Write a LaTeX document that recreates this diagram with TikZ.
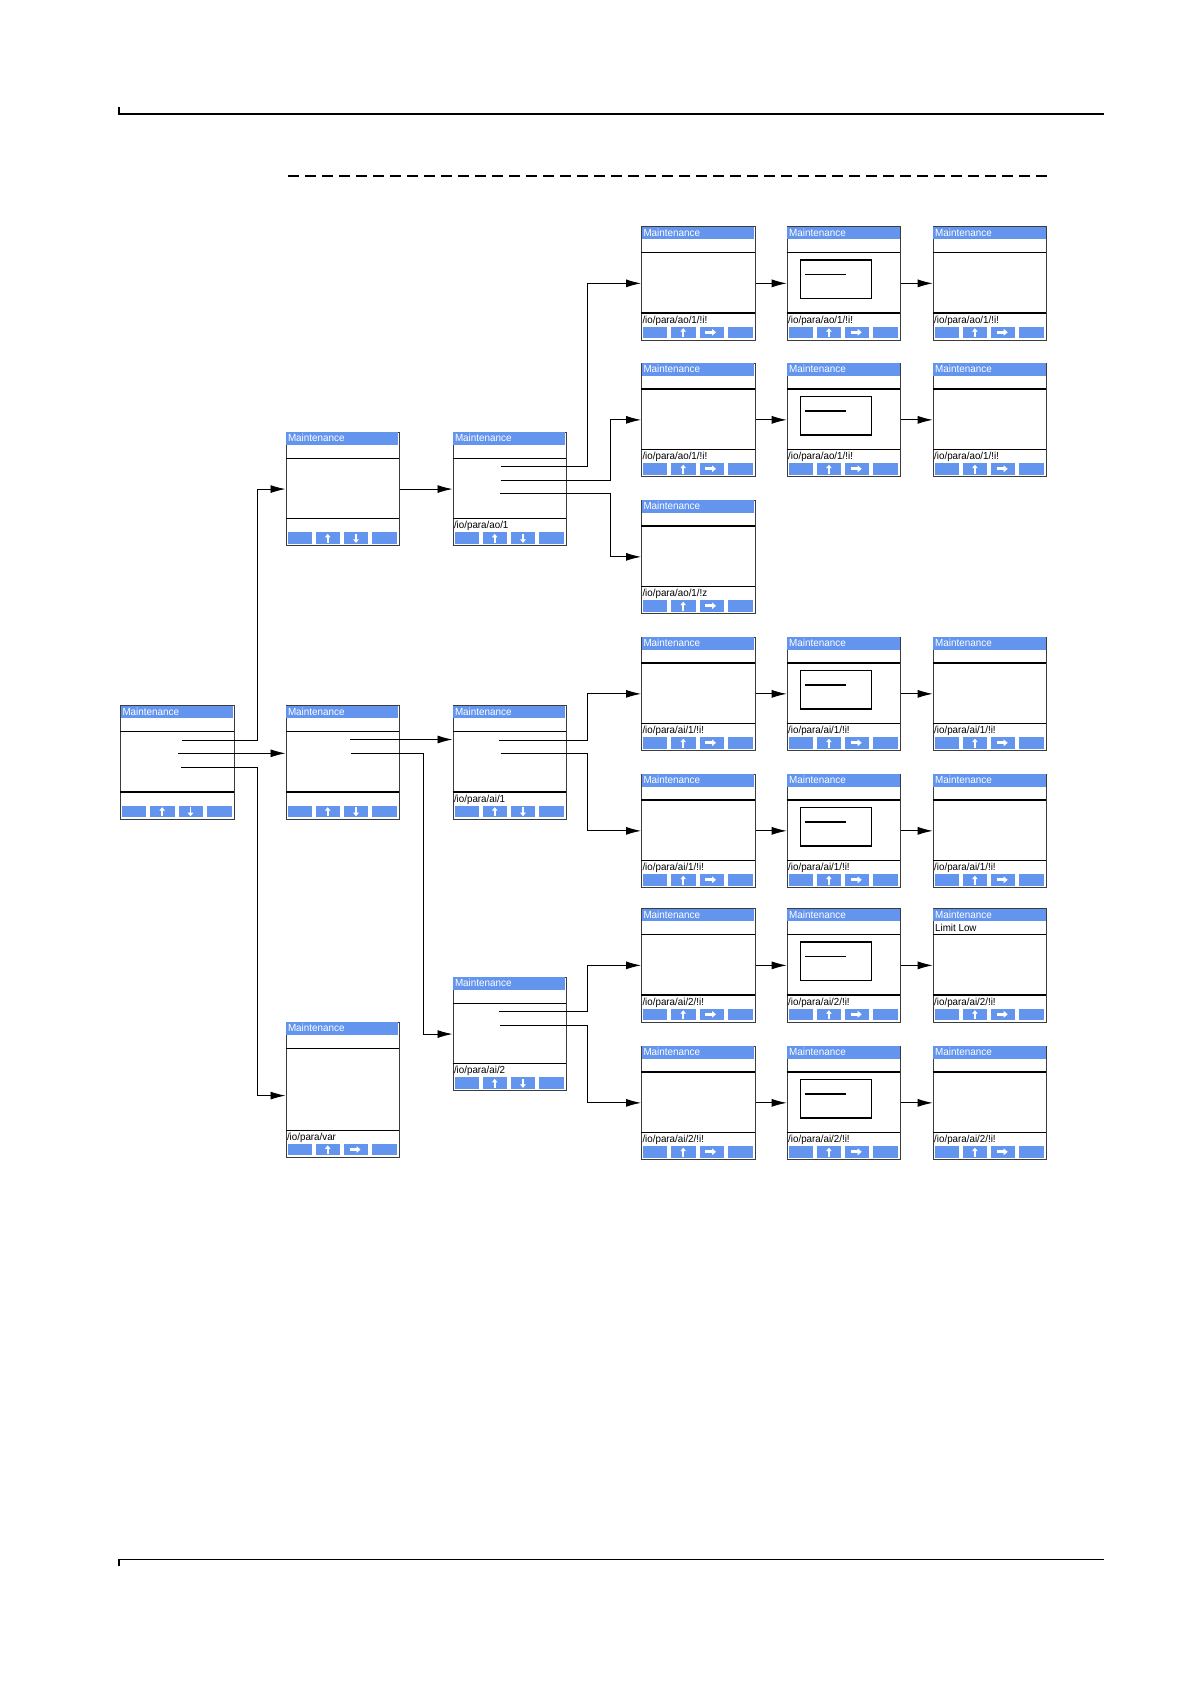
\documentclass[tikz,border=0pt]{standalone}
\usepackage{fontspec}
\setmainfont{Liberation Sans}
\newfontfamily\scrfont[FakeStretch=0.96]{Liberation Sans}
\usetikzlibrary{arrows.meta,calc}
\definecolor{scrblue}{RGB}{99,149,238}
\definecolor{framec}{RGB}{60,60,60}
\tikzset{
  conn/.style={line width=0.9pt, black},
  arr/.style={conn, -{Latex[length=15pt,width=8pt]}},
  scrframe/.style={draw=framec, line width=1.2pt, fill=white, inner sep=0pt, minimum width=113.5pt, anchor=north west},
  sepline/.style={line width=1.1pt, black},
  ttl/.style={text=white, font=\scrfont\fontsize{10.3}{10.3}\selectfont, anchor=base west, inner sep=0pt},
  ptxt/.style={text=black, font=\scrfont\fontsize{10.2}{10.2}\selectfont, anchor=base west, inner sep=0pt},
  innerbox/.style={line width=1.1pt, black},
}
\newcommand\btnd{\draw[white, line width=1.9pt, -{Triangle[length=3.5pt,width=5.5pt]}] (70.5,\scrh-11.3) -- (70.5,\scrh-2.3);}
\newcommand\btnr{\draw[white, line width=2.8pt, -{Triangle[length=4pt,width=6.5pt]}] (64,\scrh-7.2) -- (75,\scrh-7.2);}
% #1 name, #2 x0, #3 y0, #4 height, #5 path text, #6 button-3 arrow macro
\newcommand\scr[6]{%
\begin{scope}[shift={(#2,#3)}]
  \def\scrh{#4}%
  \node[scrframe, minimum height=#4pt] (#1) at (0,0) {};
  \fill[scrblue] (0.6,0.6) rectangle (112.9,13);
  \node[ttl] (#1-title) at (2.3,10.2) {Maintenance};
  \draw[sepline] (0,26.5) -- (113.5,26.5);
  \draw[sepline] (0,#4-26.5) -- (113.5,#4-26.5);
  \node[ptxt] (#1-path) at (1.3,#4-16.3) {#5};
  \fill[scrblue] (2,#4-13) rectangle (26,#4-1.5);
  \fill[scrblue] (30,#4-13) rectangle (54.5,#4-1.5);
  \fill[scrblue] (58.5,#4-13) rectangle (82.5,#4-1.5);
  \fill[scrblue] (86.5,#4-13) rectangle (111.5,#4-1.5);
  \draw[white, line width=1.9pt, -{Triangle[length=3.5pt,width=5.5pt]}] (42.2,\scrh-2.3) -- (42.2,\scrh-11.3);
  #6
\end{scope}}
\newcommand\innerrect[1]{%
  \draw[innerbox] ($(#1.north west)+(14,34)$) rectangle ($(#1.north west)+(85,72.5)$);
  \draw[innerbox] ($(#1.north west)+(18.3,48.5)$) -- ($(#1.north west)+(59.3,48.5)$);}
\begin{document}
\begin{tikzpicture}[x=1pt,y=-1pt]
\useasboundingbox (0,0) rectangle (1190,1684);
% page rules
\draw[line width=1.1pt] (119,107) -- (119,114) -- (1104,114);
\draw[line width=1.3pt, dash pattern=on 10.5pt off 6.5pt] (288,176) -- (1050,176);
\draw[line width=1.1pt] (119,1566) -- (119,1559.5) -- (1104,1559.5);

% left part
\scr{c0}{120}{705}{113.5}{}{\btnd}
\scr{c1top}{285.5}{431.7}{113.5}{}{\btnd}
\scr{c1mid}{285.5}{705}{113.5}{}{\btnd}
\scr{c1bot}{285.5}{1021.7}{135}{/io/para/var}{\btnr}
\scr{c2ao}{452.5}{431.7}{113.5}{/io/para/ao/1}{\btnd}
\scr{c2ai1}{452.5}{705}{113.5}{/io/para/ai/1}{\btnd}
\scr{c2ai2}{452.5}{976.7}{113.5}{/io/para/ai/2}{\btnd}

% right grid
\scr{r1c3}{641}{226}{113.5}{/io/para/ao/1/!i!}{\btnr}
\scr{r1c4}{786.7}{226}{113.5}{/io/para/ao/1/!i!}{\btnr}
\scr{r1c5}{932.7}{226}{113.5}{/io/para/ao/1/!i!}{\btnr}
\scr{r2c3}{641}{362.5}{113.5}{/io/para/ao/1/!i!}{\btnr}
\scr{r2c4}{786.7}{362.5}{113.5}{/io/para/ao/1/!i!}{\btnr}
\scr{r2c5}{932.7}{362.5}{113.5}{/io/para/ao/1/!i!}{\btnr}
\scr{r3c3}{641}{499.5}{113.5}{/io/para/ao/1/!z}{\btnr}
\scr{r4c3}{641}{636.5}{113.5}{/io/para/ai/1/!i!}{\btnr}
\scr{r4c4}{786.7}{636.5}{113.5}{/io/para/ai/1/!i!}{\btnr}
\scr{r4c5}{932.7}{636.5}{113.5}{/io/para/ai/1/!i!}{\btnr}
\scr{r5c3}{641}{773.5}{113.5}{/io/para/ai/1/!i!}{\btnr}
\scr{r5c4}{786.7}{773.5}{113.5}{/io/para/ai/1/!i!}{\btnr}
\scr{r5c5}{932.7}{773.5}{113.5}{/io/para/ai/1/!i!}{\btnr}
\scr{r6c3}{641}{908}{113.5}{/io/para/ai/2/!i!}{\btnr}
\scr{r6c4}{786.7}{908}{113.5}{/io/para/ai/2/!i!}{\btnr}
\scr{r6c5}{932.7}{908}{113.5}{/io/para/ai/2/!i!}{\btnr}
\scr{r7c3}{641}{1045.5}{113.5}{/io/para/ai/2/!i!}{\btnr}
\scr{r7c4}{786.7}{1045.5}{113.5}{/io/para/ai/2/!i!}{\btnr}
\scr{r7c5}{932.7}{1045.5}{113.5}{/io/para/ai/2/!i!}{\btnr}

\foreach \r in {1,2,4,5,6,7} {\innerrect{r\r c4}}
\node[ptxt] (limitlow) at ($(r6c5.north west)+(2.3,23.7)$) {Limit Low};

% connector start points (menu entries)
\coordinate (s0a) at (181.5,740);
\coordinate (s0b) at (178,753.3);
\coordinate (s0c) at (181,767);
\coordinate (s1a) at (350,739.5);
\coordinate (s1b) at (351,753.3);
\coordinate (s2a) at (500.5,466.7);
\coordinate (s2b) at (500.5,480.3);
\coordinate (s2c) at (500,493);
\coordinate (s3a) at (499.3,740);
\coordinate (s3b) at (500.7,753.3);
\coordinate (s4a) at (499.3,1011.7);
\coordinate (s4b) at (500,1025.3);

% connectors
\draw[arr] (s0a) -| ($(c1top.west)+(-28,0)$) -- (c1top.west);
\draw[arr] (s0b) -- (s0b -| c1mid.west);
\draw[arr] (s0c) -| ($(c1bot.west)+(-28,5.8)$) -- ($(c1bot.west)+(0,5.8)$);
\draw[arr] (c1top) -- (c2ao);
\draw[arr] (s1a) -- (s1a -| c2ai1.west);
\draw[arr] (s1b) -| ($(c2ai2.west)+(-29.2,0)$) -- (c2ai2.west);
\draw[arr] (s2a) -| ($(r1c3.west)+(-53.3,0)$) -- (r1c3.west);
\draw[arr] (s2b) -| ($(r2c3.west)+(-31,0)$) -- (r2c3.west);
\draw[arr] (s2c) -| ($(r3c3.west)+(-31,0)$) -- (r3c3.west);
\draw[arr] (s3a) -| ($(r4c3.west)+(-53.3,0)$) -- (r4c3.west);
\draw[arr] (s3b) -| ($(r5c3.west)+(-53.3,0)$) -- (r5c3.west);
\draw[arr] (s4a) -| ($(r6c3.west)+(-53.3,0)$) -- (r6c3.west);
\draw[arr] (s4b) -| ($(r7c3.west)+(-53.3,0)$) -- (r7c3.west);
\foreach \r in {1,2,4,5,6,7} {
  \draw[arr] (r\r c3) -- (r\r c4);
  \draw[arr] (r\r c4) -- (r\r c5);
}
\end{tikzpicture}
\end{document}
